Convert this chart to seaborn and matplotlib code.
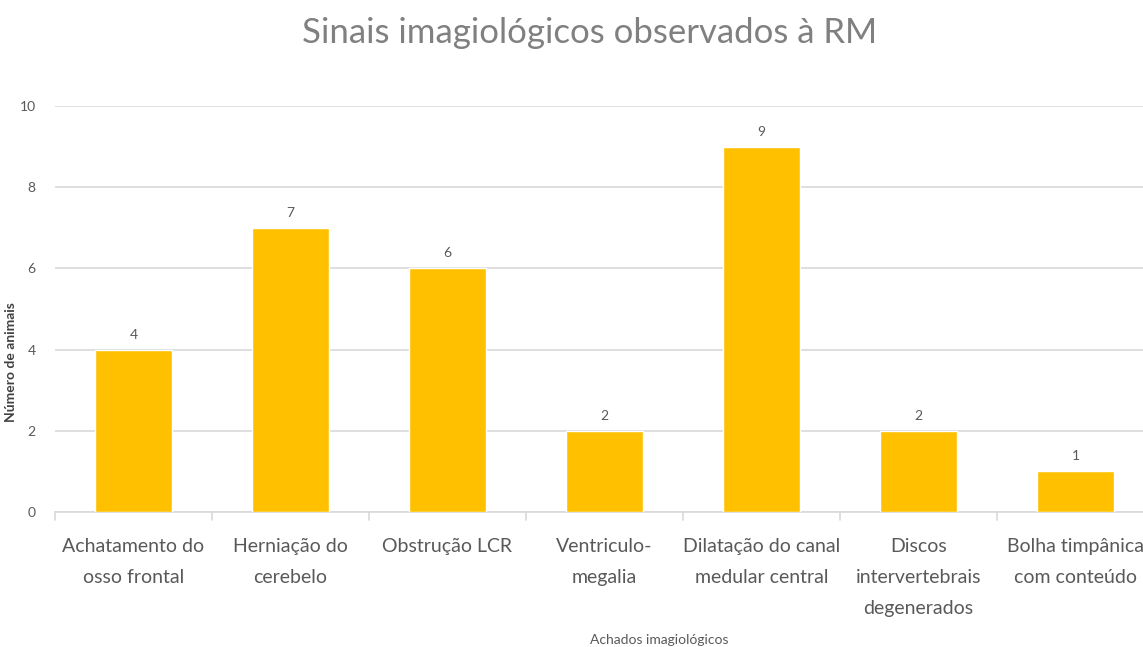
import matplotlib
matplotlib.use("Agg")
import matplotlib.pyplot as plt
import seaborn as sns
import pandas as pd
import numpy as np

# chart data
categorias = [
    "Achatamento do\nosso frontal",
    "Herniação do\ncerebelo",
    "Obstrução LCR",
    "Ventriculo-\nmegalia",
    "Dilatação do canal\nmedular central",
    "Discos\nintervertebrais\ndegenerados",
    "Bolha timpânica\ncom conteúdo",
]
num_animais = [4, 7, 6, 2, 9, 2, 1]
yticks = [0, 2, 4, 6, 8, 10]

df = pd.DataFrame({"achado": categorias, "n": num_animais})

sns.set_theme(style="white")
plt.rcParams["font.family"] = ["Lato", "DejaVu Sans"]

fig = plt.figure(figsize=(11.43, 6.47), dpi=100)
# the original chart is cut off at the right edge, so the axes run past it
ax = fig.add_axes([55 / 1143, (647 - 512) / 647, 1099 / 1143, 406 / 647])

sns.barplot(data=df, x="achado", y="n", color="#FFC000", width=0.49,
            saturation=1, ax=ax, zorder=3)

ax.set_ylim(0, 10)
ax.set_xlim(-0.5, len(categorias) - 0.5)
ax.set_yticks(yticks)
ax.yaxis.grid(True, color="#d9d9d9", linewidth=1.2, zorder=0)
ax.set_axisbelow(True)

for s in ["top", "right", "left"]:
    ax.spines[s].set_visible(False)
ax.spines["bottom"].set_color("#d9d9d9")
ax.spines["bottom"].set_linewidth(1.2)

# category separators below the axis
ax.set_xticks(np.arange(len(categorias)))
ax.set_xticklabels(categorias, fontsize=14, color="#595959", linespacing=1.97)
ax.tick_params(axis="x", length=0, pad=19)
for b in np.arange(-0.5, len(categorias), 1):
    ax.plot([b, b], [0, -0.2], color="#d9d9d9", lw=1.2, clip_on=False)
ax.tick_params(axis="y", length=0, labelsize=10, labelcolor="#595959", pad=14)

for i, v in enumerate(num_animais):
    ax.text(i, v + 0.22, str(v), ha="center", va="bottom", fontsize=10,
            color="#595959")

ax.set_xlabel("Achados imagiológicos", fontsize=10, color="#595959", labelpad=2)
ax.xaxis.set_label_coords(604 / 1099, -0.3)
ax.set_ylabel("Número de animais", fontsize=10, color="#404040",
              fontweight="bold", labelpad=8)
ax.yaxis.set_label_coords(-38 / 1099, 0.37)

fig.text(590 / 1143, 1 - 33 / 647, "Sinais imagiológicos observados à RM",
         ha="center", va="center", fontsize=25, color="#808080")

fig.savefig("out.png", dpi=100)
